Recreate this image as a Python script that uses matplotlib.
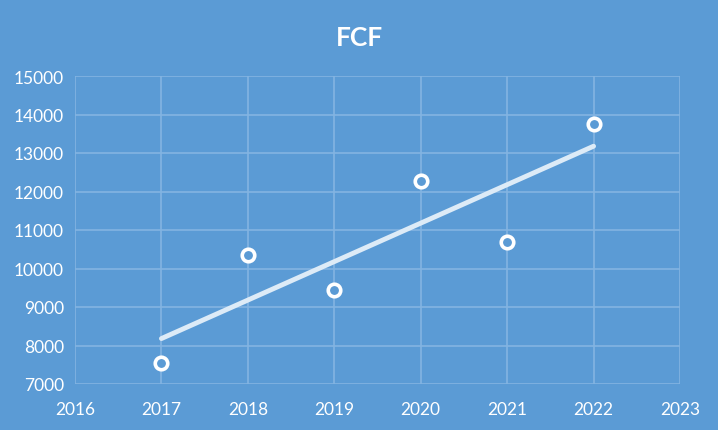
import matplotlib
matplotlib.use("Agg")
import matplotlib.pyplot as plt
import numpy as np

# datos
years = [2017, 2018, 2019, 2020, 2021, 2022]
fcf = [7540, 10360, 9430, 12280, 10700, 13760]
x_ticks = [2016, 2017, 2018, 2019, 2020, 2021, 2022, 2023]
y_ticks = [7000, 8000, 9000, 10000, 11000, 12000, 13000, 14000, 15000]

BG = "#5B9BD5"
GRID = "#83B4E2"

plt.rcParams['font.family'] = ['Lato', 'DejaVu Sans']

fig = plt.figure(figsize=(7.18, 4.31), dpi=100)
fig.patch.set_facecolor(BG)
ax = fig.add_axes([75 / 718, 46 / 431, 605 / 718, 308 / 431])
ax.set_facecolor(BG)

# linea de tendencia (regresion lineal)
coef = np.polyfit(years, fcf, 1)
trend = np.polyval(coef, years)
ax.plot(years, trend, color="#DDEBF7", lw=3.5, solid_capstyle="round", zorder=3)

ax.plot(years, fcf, linestyle="none", marker="o", markersize=9,
        markerfacecolor=BG, markeredgecolor="white", markeredgewidth=2.6, zorder=4)

ax.set_xlim(2016, 2023)
ax.set_ylim(7000, 15000)
ax.set_xticks(x_ticks)
ax.set_yticks(y_ticks)
ax.grid(True, color=GRID, lw=1.2)
ax.set_axisbelow(True)
for s in ax.spines.values():
    s.set_visible(False)
ax.tick_params(axis='both', length=0, labelsize=12.5, colors="white", pad=12)
ax.tick_params(axis='y', pad=8)

fig.text(0.5, 0.912, "FCF", ha="center", va="center", color="white",
         fontsize=19, fontweight="bold")

plt.savefig("out.png", facecolor=BG)
